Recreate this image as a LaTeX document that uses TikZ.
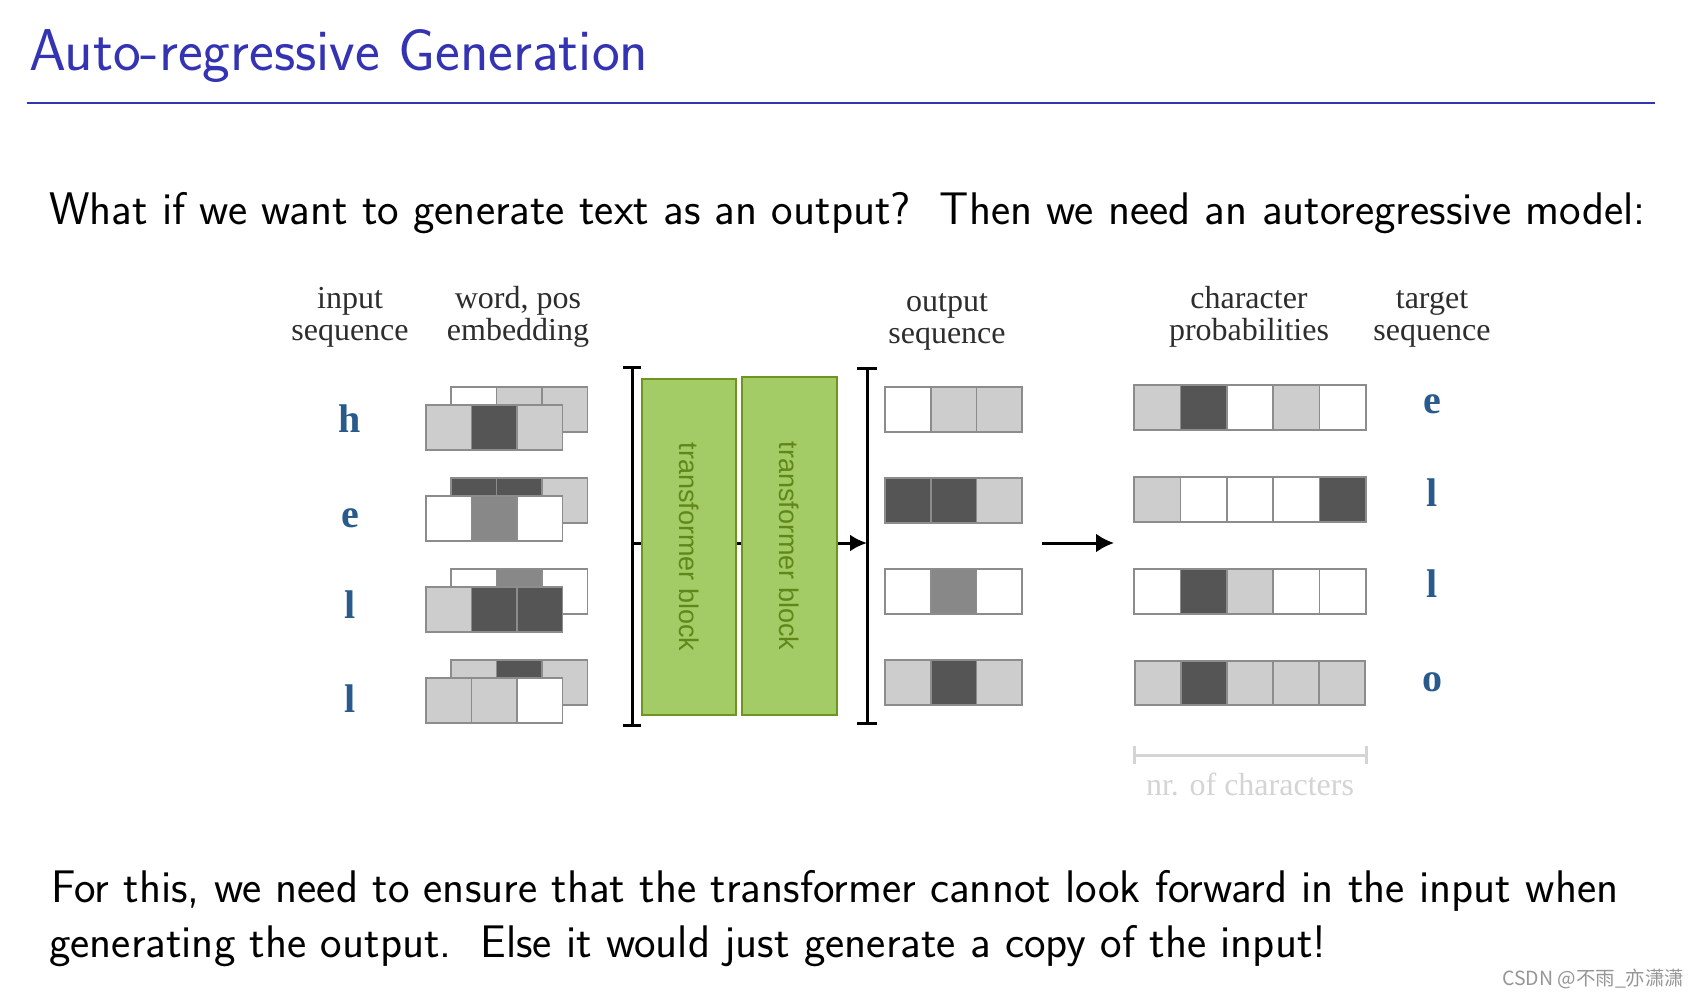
\documentclass[tikz,border=0pt]{standalone}
\usepackage{fontspec}
\usetikzlibrary{arrows.meta}
\newfontfamily\lblfont{Liberation Serif}
\newfontfamily\tbfont{Liberation Sans}
\newfontfamily\cjkfont{Noto Sans CJK SC}
\definecolor{structure}{RGB}{51,51,179}
\definecolor{cl}{RGB}{205,205,205}
\definecolor{cd}{RGB}{85,85,85}
\definecolor{cm}{RGB}{136,136,136}
\definecolor{cw}{RGB}{255,255,255}
\definecolor{cellborder}{RGB}{140,140,140}
\definecolor{blockfill}{RGB}{163,204,102}
\definecolor{blockdraw}{RGB}{110,150,30}
\definecolor{blocktext}{RGB}{95,135,25}
\definecolor{lettercol}{RGB}{40,90,140}
\definecolor{lblcol}{RGB}{45,45,45}
\definecolor{faint}{RGB}{212,212,212}
\definecolor{wm}{RGB}{150,150,150}
\newcommand{\cellrow}[6]{%
  \foreach \cc [count=\ii] in {#6} {
    \node[cell, fill=\cc, minimum width=#4pt, minimum height=#5pt] (#1-\ii) at ({#2+(\ii-1)*#4},#3) {};
  }}
\begin{document}
\begin{tikzpicture}[x=1pt,y=-1pt,
  cell/.style={draw=cellborder, line width=1.6pt, anchor=north west, inner sep=0pt, outer sep=0pt},
  lbl/.style={font=\lblfont\fontsize{32}{32}\selectfont, text=lblcol, align=center, inner sep=0pt, anchor=base},
  letter/.style={font=\lblfont\bfseries\fontsize{40}{40}\selectfont, text=lettercol, inner sep=0pt, anchor=base},
  tblock/.style={draw=blockdraw, line width=1.8pt, fill=blockfill, inner sep=0pt,
    font=\tbfont\fontsize{27}{27}\selectfont, text=blocktext},
  body/.style={font=\sffamily\fontsize{45.7}{50}\selectfont, inner sep=0pt, anchor=base west},
  bar/.style={line width=3pt, black},
  arr/.style={line width=3pt, -{Latex[length=18pt,width=19pt]}}
]
\useasboundingbox[fill=white] (0,0) rectangle (1698,995);

% title
\node[font=\sffamily\fontsize{59}{62}\selectfont, text=structure, inner sep=0pt, anchor=base west] (title) at (29,71) {Auto-regressive Generation};
\coordinate (ruleL) at (27,103);
\coordinate (ruleR) at (1655,103);
\draw[structure, line width=1.8pt] (ruleL) -- (ruleR);

% question
\node[body] (q) at (49,225) {What if we want to generate text as an output?\ \ Then we need an autoregressive model:};

% column labels (anchor at baseline of last line)
\node[lbl] (lin) at (350,340) {input\\sequence};
\node[lbl] (lemb) at (518,340) {word, pos\\embedding};
\node[lbl] (lout) at (947,343) {output\\sequence};
\node[lbl] (lprob) at (1249,340) {character\\probabilities};
\node[lbl] (ltgt) at (1432,340) {target\\sequence};

% input letters
\node[letter] (in1) at (350,432) {h};
\node[letter] (in2) at (350,527) {e};
\node[letter] (in3) at (350,618) {l};
\node[letter] (in4) at (350,712) {l};

% embeddings (back rows then front rows)
\cellrow{eb1}{451}{387}{45.5}{45}{cw,cl,cl}
\cellrow{ef1}{426}{405}{45.5}{45}{cl,cd,cl}
\cellrow{eb2}{451}{478}{45.5}{45}{cd,cd,cl}
\cellrow{ef2}{426}{496}{45.5}{45}{cw,cm,cw}
\cellrow{eb3}{451}{569}{45.5}{45}{cw,cm,cw}
\cellrow{ef3}{426}{587}{45.5}{45}{cl,cd,cd}
\cellrow{eb4}{451}{660}{45.5}{45}{cl,cd,cl}
\cellrow{ef4}{426}{678}{45.5}{45}{cl,cl,cw}

% left bracket
\coordinate (lbT) at (632,367);
\coordinate (lbB) at (632,725);
\coordinate (lbM) at (632,543);
\draw[bar] (lbT) -- (lbB);
\draw[bar] ([xshift=-9pt]lbT) -- ([xshift=9pt]lbT);
\draw[bar] ([xshift=-9pt]lbB) -- ([xshift=9pt]lbB);

% transformer blocks
\node[tblock, minimum width=94pt, minimum height=336pt] (tb1) at (689,547) {\rotatebox{-90}{transformer block}};
\node[tblock, minimum width=95pt, minimum height=338pt] (tb2) at (789.5,546) {\rotatebox{-90}{transformer block}};

\draw[bar] (lbM) -- (lbM -| tb1.west);
\draw[bar] (lbM -| tb1.east) -- (lbM -| tb2.west);

% right bracket
\coordinate (rbT) at (867,368);
\coordinate (rbB) at (867,723);
\coordinate (rbM) at (867,543);
\draw[bar] (rbT) -- (rbB);
\draw[bar] ([xshift=-10pt]rbT) -- ([xshift=10pt]rbT);
\draw[bar] ([xshift=-10pt]rbB) -- ([xshift=10pt]rbB);
\draw[line width=3pt, -{Latex[length=17pt,width=17pt]}] (lbM -| tb2.east) -- (rbM);

% output sequence
\cellrow{o1}{885}{387}{45.7}{45}{cw,cl,cl}
\cellrow{o2}{885}{478}{45.7}{45}{cd,cd,cl}
\cellrow{o3}{885}{569}{45.7}{45}{cw,cm,cw}
\cellrow{o4}{885}{660}{45.7}{45}{cl,cd,cl}

% middle arrow
\coordinate (mS) at (1042,543);
\coordinate (mE) at (1114,543);
\draw[arr] (mS) -- (mE);

% character probabilities
\cellrow{p1}{1134}{385}{46.4}{45}{cl,cd,cw,cl,cw}
\cellrow{p2}{1134}{477}{46.4}{45}{cl,cw,cw,cw,cd}
\cellrow{p3}{1134}{569}{46.4}{45}{cw,cd,cl,cw,cw}
\cellrow{p4}{1135}{661}{46}{44}{cl,cd,cl,cl,cl}

% target letters
\node[letter] (t1) at (1432,413) {e};
\node[letter] (t2) at (1432,506) {l};
\node[letter] (t3) at (1432,597) {l};
\node[letter] (t4) at (1432,691) {o};

% nr. of characters bar
\coordinate (nrL) at (1134,755);
\coordinate (nrR) at (1366,755);
\draw[faint, line width=3pt] (nrL) -- (nrR);
\draw[faint, line width=3pt] ([yshift=-9pt]nrL) -- ([yshift=9pt]nrL);
\draw[faint, line width=3pt] ([yshift=-9pt]nrR) -- ([yshift=9pt]nrR);
\node[lbl, text=faint] (nr) at (1250,795) {nr. of characters};

% bottom text
\node[body] (b1) at (51,902) {For this, we need to ensure that the transformer cannot look forward in the input when};
\node[body] (b2) at (49,957) {generating the output.\ \ Else it would just generate a copy of the input!};

% watermark
\node[font=\cjkfont\fontsize{19.5}{24}\selectfont, text=wm, inner sep=0pt, anchor=base west] (wmk) at (1502,985) {CSDN @不雨\_亦潇潇};
\end{tikzpicture}
\end{document}
